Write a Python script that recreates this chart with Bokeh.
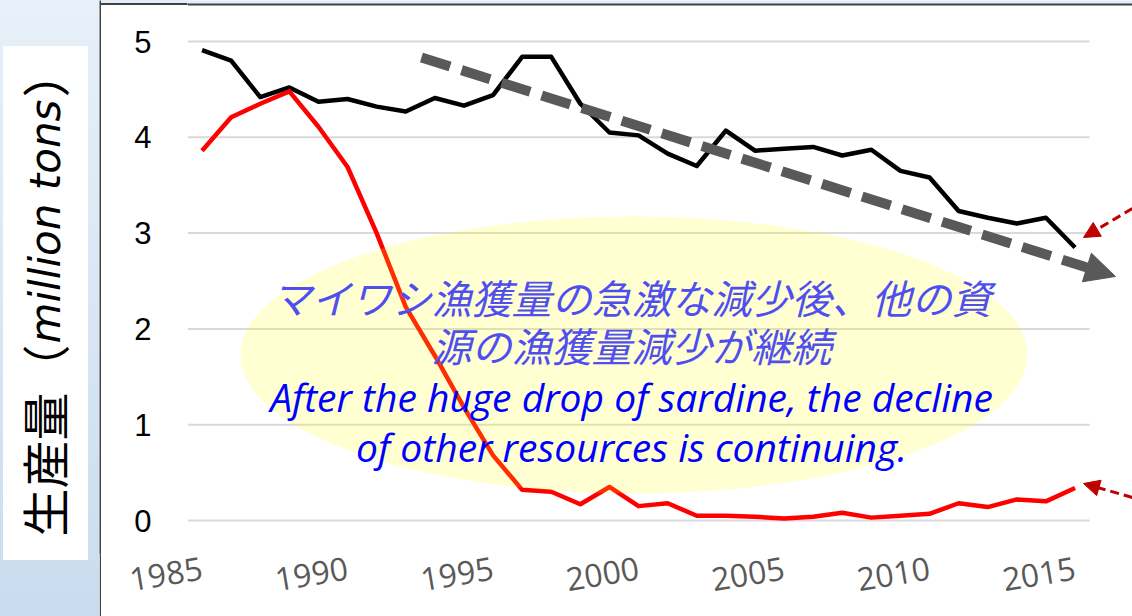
import math
from bokeh.plotting import figure
from bokeh.layouts import row
from bokeh.models import Range1d, FixedTicker, Arrow, NormalHead, BoxAnnotation
from bokeh.core.properties import value
from bokeh.embed import file_html
from bokeh.resources import INLINE

# ---------------- data ----------------
years = list(range(1985, 2016))
total_catch = [4.91, 4.80, 4.42, 4.52, 4.37, 4.40, 4.32, 4.27, 4.41, 4.33,
               4.44, 4.84, 4.84, 4.35, 4.05, 4.02, 3.83, 3.70, 4.07, 3.86,
               3.88, 3.90, 3.81, 3.87, 3.65, 3.58, 3.23, 3.16, 3.10, 3.16,
               2.85]
sardine_catch = [3.86, 4.21, 4.35, 4.48, 4.11, 3.69, 3.00, 2.23, 1.72, 1.18,
                 0.68, 0.32, 0.30, 0.17, 0.35, 0.15, 0.18, 0.05, 0.05, 0.04,
                 0.02, 0.04, 0.08, 0.03, 0.05, 0.07, 0.18, 0.14, 0.22, 0.20,
                 0.34]
y_ticks = [0, 1, 2, 3, 4, 5]
x_ticks = [1985, 1990, 1995, 2000, 2005, 2010, 2015]
x_tick_labels = ["1985", "1990", "1995", "2000", "2005", "2010", "2015"]

note_ja = ["マイワシ漁獲量の急激な減少後、他の資", "源の漁獲量減少が継続"]
note_en = ["After the huge drop of sardine, the decline",
           "of other resources is continuing."]
ylabel_ja = "生産量（"
ylabel_en = "million tons"
ylabel_close = "）"

# ---------------- layout constants ----------------
H = 616
BOTTOM = 62
PX_PER_YEAR = 29.1
MAIN_W = 1031
MAIN_LEFT = 86
FRAME_W = MAIN_W - MAIN_LEFT
X0 = years[0] - 0.5
X1 = X0 + FRAME_W / PX_PER_YEAR
PX_PER_UNIT = 95.8
ZERO_PX = 520.0
Y1 = ZERO_PX / PX_PER_UNIT
Y0 = -(H - BOTTOM - ZERO_PX) / PX_PER_UNIT

# annotation geometry (data coords)
ELL_X, ELL_Y, ELL_W, ELL_H = 1999.84, 1.728, 27.04, 2.89
TEXT_X = 1999.76
JA_Y = [2.328, 1.827]
EN_Y = [1.295, 0.773]
TREND = dict(x_start=1992.54, y_start=4.833, x_end=2016.39, y_end=2.547)
RED_ARROWS = [dict(x_start=2016.97, y_start=3.257, x_end=2015.29, y_end=2.954),
              dict(x_start=2016.97, y_start=0.240, x_end=2015.29, y_end=0.386)]

PANEL_BLUE = "#d9e6f3"
PANEL_BG = ("linear-gradient(#ffffff, #ffffff) 3px 46px / 85px 514px no-repeat, "
            "linear-gradient(to bottom, #e8f0f9, #c9dcef)")
EDGE = "#404040"
TOP_STRIP = ("linear-gradient(to bottom, #e4edf7 0px, #e4edf7 3px, "
             "#404040 3px, #404040 5px, #ffffff 5px, #ffffff 100%)")

# ---------------- left label panel ----------------
left = figure(width=99, height=H, output_backend="svg", toolbar_location=None,
              x_range=Range1d(0, 99), y_range=Range1d(H - BOTTOM, 0),
              x_axis_location=None, y_axis_location=None,
              min_border_left=0, min_border_right=0,
              min_border_top=0, min_border_bottom=BOTTOM)
left.styles = {"background": PANEL_BG}
left.border_fill_color = PANEL_BLUE
left.border_fill_alpha = 0
left.background_fill_color = PANEL_BLUE
left.background_fill_alpha = 0
left.outline_line_color = None
left.grid.visible = False
left.text(x=[42], y=[536], text=[ylabel_ja], angle=math.pi / 2,
          text_align="left", text_baseline="middle",
          text_font=value("Noto Sans CJK JP"), text_font_size="48px",
          text_color="black")
left.text(x=[45], y=[343], text=[ylabel_en], angle=math.pi / 2,
          text_align="left", text_baseline="middle",
          text_font=value("DejaVu Sans"), text_font_style="italic",
          text_font_size="42px", text_color="black")
left.text(x=[42], y=[97], text=[ylabel_close], angle=math.pi / 2,
          text_align="left", text_baseline="middle",
          text_font=value("Noto Sans CJK JP"), text_font_size="48px",
          text_color="black")

# ---------------- thin frame border ----------------
edge = figure(width=2, height=H, output_backend="svg", toolbar_location=None,
              x_axis_location=None, y_axis_location=None,
              min_border_left=0, min_border_right=0,
              min_border_top=0, min_border_bottom=BOTTOM)
edge.border_fill_color = EDGE
edge.background_fill_color = EDGE
edge.outline_line_color = None
edge.grid.visible = False

# ---------------- main chart ----------------
p = figure(width=MAIN_W, height=H, output_backend="svg", toolbar_location=None,
           x_range=Range1d(X0, X1), y_range=Range1d(Y0, Y1),
           min_border_left=MAIN_LEFT, min_border_right=0,
           min_border_top=0, min_border_bottom=BOTTOM)
p.styles = {"background": TOP_STRIP}
p.outline_line_color = None
p.border_fill_color = "white"
p.border_fill_alpha = 0
p.background_fill_color = "white"
p.grid.visible = False

# slide strip above the chart box, and the box's top edge (inside the frame)
p.add_layout(BoxAnnotation(bottom=(ZERO_PX - 3) / PX_PER_UNIT,
                           fill_color="#e4edf7", fill_alpha=1.0, line_color=None))
p.add_layout(BoxAnnotation(bottom=(ZERO_PX - 5) / PX_PER_UNIT,
                           top=(ZERO_PX - 3) / PX_PER_UNIT,
                           fill_color=EDGE, fill_alpha=1.0, line_color=None))

n = len(y_ticks)
p.segment(x0=[years[0] - 0.5] * n, x1=[years[-1] + 0.5] * n, y0=y_ticks, y1=y_ticks,
          line_color="#d9d9d9", line_width=2)

p.line(years, total_catch, line_color="black", line_width=4.5, line_join="round")
p.line(years, sardine_catch, line_color="#ff0000", line_width=4.5, line_join="round")

p.ellipse(x=[ELL_X], y=[ELL_Y], width=ELL_W, height=ELL_H,
          fill_color="#ffff00", fill_alpha=0.18, line_color=None)

for t, yy in zip(note_ja, JA_Y):
    p.text(x=[TEXT_X], y=[yy], text=[t], text_align="center", text_baseline="middle",
           text_font=value("Noto Sans CJK JP"), text_font_style="italic",
           text_font_size="40px", text_color="#4f4ff0")
for t, yy in zip(note_en, EN_Y):
    p.text(x=[TEXT_X], y=[yy], text=[t], text_align="center", text_baseline="middle",
           text_font=value("Open Sans"), text_font_style="italic",
           text_font_size="39px", text_color="#0000ff")

p.add_layout(Arrow(end=NormalHead(size=30, fill_color="#595959", line_color="#595959"),
                   line_color="#595959", line_width=10, line_dash="30 12", **TREND))
for ra in RED_ARROWS:
    p.add_layout(Arrow(end=NormalHead(size=16, fill_color="#c00000", line_color="#c00000"),
                       line_color="#c00000", line_width=3, line_dash="9 5", **ra))

yax = p.yaxis[0]
yax.ticker = FixedTicker(ticks=y_ticks)
yax.axis_line_color = None
yax.major_tick_line_color = None
yax.minor_tick_line_color = None
yax.major_label_text_font = "Liberation Sans"
yax.major_label_text_font_size = "31px"
yax.major_label_text_color = "black"
yax.major_label_standoff = 30

xax = p.xaxis[0]
xax.ticker = FixedTicker(ticks=x_ticks)
xax.major_label_overrides = {t: l for t, l in zip(x_ticks, x_tick_labels)}
xax.axis_line_color = None
xax.major_tick_line_color = None
xax.minor_tick_line_color = None
xax.major_label_orientation = 0.165
xax.major_label_text_font = "Open Sans"
xax.major_label_text_font_size = "32px"
xax.major_label_text_color = "#595959"
xax.major_label_standoff = 7

layout = row(left, edge, p, spacing=0)
open("out.html", "w").write(file_html(layout, INLINE))
